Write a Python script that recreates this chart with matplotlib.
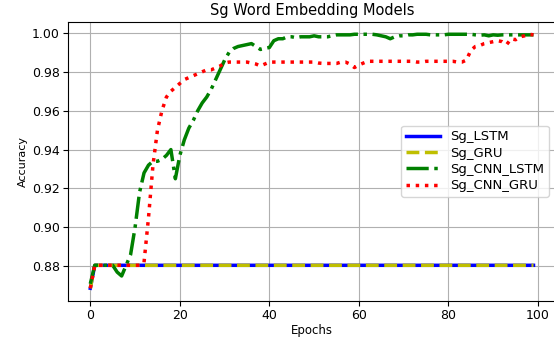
import matplotlib
matplotlib.use("Agg")
import matplotlib.pyplot as plt
import numpy as np

epochs = np.arange(100)

sg_lstm = [0.8687] + [0.8805] * 99
sg_gru = [0.8687] + [0.8805] * 99

sg_cnn_lstm = [
    0.871, 0.8805, 0.8805, 0.8805, 0.8805, 0.8805, 0.877, 0.875, 0.8805, 0.886,
    0.900, 0.918, 0.928, 0.932, 0.934, 0.934, 0.935, 0.937, 0.940, 0.925,
    0.937, 0.945, 0.951, 0.955, 0.960, 0.964, 0.967, 0.971, 0.976, 0.981,
    0.986, 0.990, 0.992, 0.993, 0.9935, 0.994, 0.9945, 0.993, 0.9915, 0.992,
    0.9925, 0.996, 0.997, 0.997, 0.998, 0.998, 0.9975, 0.998, 0.998, 0.998,
    0.9985, 0.998, 0.998, 0.998, 0.9985, 0.999, 0.999, 0.999, 0.999, 0.9993,
    0.9993, 0.9993, 0.9993, 0.9993, 0.999, 0.9985, 0.998, 0.997, 0.998, 0.9985,
    0.9985, 0.999, 0.999, 0.9993, 0.9993, 0.9993, 0.999, 0.999, 0.999, 0.999,
    0.9993, 0.9993, 0.9993, 0.9993, 0.9993, 0.9993, 0.999, 0.9988, 0.999, 0.9985,
    0.999, 0.9988, 0.999, 0.999, 0.999, 0.999, 0.999, 0.999, 0.999, 0.999,
]

sg_cnn_gru = [
    0.8687, 0.8805, 0.8805, 0.8805, 0.8805, 0.8805, 0.8805, 0.8805, 0.8805, 0.8805,
    0.8805, 0.8805, 0.882, 0.905, 0.932, 0.950, 0.960, 0.967, 0.970, 0.972,
    0.974, 0.976, 0.977, 0.978, 0.979, 0.980, 0.981, 0.981, 0.982, 0.983,
    0.9845, 0.985, 0.985, 0.985, 0.985, 0.985, 0.9845, 0.984, 0.983, 0.984,
    0.985, 0.985, 0.985, 0.985, 0.985, 0.985, 0.985, 0.985, 0.985, 0.985,
    0.985, 0.9845, 0.9843, 0.9843, 0.9843, 0.9843, 0.985, 0.985, 0.984, 0.9822,
    0.9835, 0.9845, 0.9854, 0.9854, 0.9854, 0.9854, 0.9854, 0.9854, 0.9854, 0.9854,
    0.9854, 0.9854, 0.9854, 0.985, 0.985, 0.9854, 0.9854, 0.9854, 0.9854, 0.9854,
    0.9854, 0.9854, 0.985, 0.985, 0.986, 0.991, 0.993, 0.9935, 0.9945, 0.995,
    0.9955, 0.996, 0.9955, 0.994, 0.997, 0.9965, 0.998, 0.9985, 0.9993, 0.999,
]

fig = plt.figure(figsize=(5.54, 3.37), dpi=100)
ax = fig.add_axes([0.123, 0.107, 0.88, 0.829])

ax.plot(epochs, sg_lstm, color="b", linestyle="-", linewidth=2.5, label="Sg_LSTM")
ax.plot(epochs, sg_gru, color="y", linestyle="--", linewidth=2.5, label="Sg_GRU")
ax.plot(epochs, sg_cnn_lstm, color="g", linestyle="-.", linewidth=2.5, label="Sg_CNN_LSTM")
ax.plot(epochs, sg_cnn_gru, color="r", linestyle=":", linewidth=2.5, label="Sg_CNN_GRU")

ax.set_title("Sg Word Embedding Models", fontsize=10.5, pad=5)
ax.set_xlabel("Epochs", fontsize=8.5, labelpad=1)
ax.set_ylabel("Accuracy", fontsize=8, labelpad=3)
ax.tick_params(labelsize=9, pad=2.5)
ax.grid(True)
ax.legend(loc="center right", fontsize=9.5, labelspacing=0.25,
          handlelength=2.6, borderpad=0.35)

fig.savefig("out.png", dpi=100)
